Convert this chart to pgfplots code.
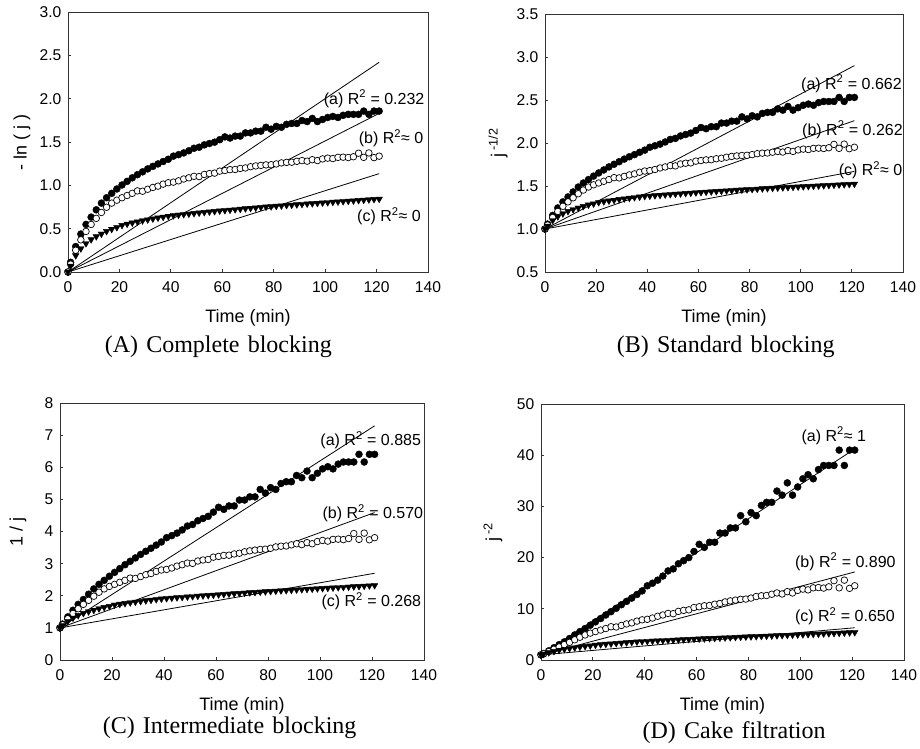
\documentclass[border=0pt]{standalone}
\usepackage{fontspec}
\setmainfont{Liberation Sans}
\newfontfamily\capfont{Liberation Serif}
\usepackage{pgfplots}
\pgfplotsset{compat=1.18}
\usepackage{pgfplotstable}

\pgfplotstableread{
t a b c
0 0 0 0
1 0.112 0.091 0.070
3 0.294 0.251 0.190
5 0.438 0.371 0.270
7 0.549 0.468 0.330
9 0.633 0.549 0.375
11 0.718 0.619 0.410
13 0.795 0.687 0.440
15 0.857 0.747 0.470
17 0.908 0.795 0.495
19 0.958 0.829 0.515
21 1.004 0.857 0.540
23 1.046 0.883 0.555
25 1.087 0.908 0.568
27 1.123 0.936 0.580
29 1.156 0.932 0.593
31 1.190 0.955 0.604
33 1.219 0.976 0.615
35 1.247 0.991 0.625
37 1.275 1.014 0.635
39 1.301 1.030 0.645
41 1.337 1.037 0.652
43 1.354 1.052 0.659
45 1.374 1.073 0.665
47 1.399 1.087 0.671
49 1.428 1.104 0.677
51 1.440 1.101 0.683
53 1.467 1.126 0.689
55 1.483 1.136 0.695
57 1.498 1.141 0.700
59 1.527 1.164 0.706
61 1.559 1.171 0.711
63 1.546 1.181 0.716
65 1.568 1.183 0.722
67 1.568 1.195 0.727
69 1.605 1.201 0.732
71 1.605 1.215 0.737
73 1.625 1.224 0.742
75 1.625 1.230 0.747
77 1.670 1.236 0.752
79 1.648 1.238 0.756
81 1.680 1.247 0.761
83 1.670 1.259 0.765
85 1.704 1.265 0.770
87 1.714 1.267 0.774
89 1.714 1.277 0.778
91 1.748 1.286 0.783
93 1.736 1.279 0.787
95 1.772 1.296 0.791
97 1.736 1.286 0.795
99 1.760 1.305 0.799
101 1.783 1.314 0.803
103 1.795 1.309 0.807
105 1.783 1.323 0.811
107 1.808 1.325 0.815
109 1.819 1.321 0.819
111 1.819 1.330 0.823
113 1.819 1.371 0.827
115 1.857 1.323 0.831
117 1.819 1.374 0.835
119 1.857 1.320 0.839
121 1.857 1.337 0.843
}\tabA

\pgfplotstableread{
t a b c
0 1.000 1.000 1.000
1 1.057 1.046 1.036
3 1.158 1.134 1.100
5 1.245 1.204 1.145
7 1.316 1.264 1.179
9 1.373 1.316 1.206
11 1.431 1.363 1.228
13 1.488 1.410 1.246
15 1.535 1.453 1.265
17 1.575 1.488 1.281
19 1.615 1.514 1.294
21 1.652 1.535 1.310
23 1.687 1.555 1.320
25 1.722 1.575 1.328
27 1.753 1.597 1.336
29 1.783 1.594 1.345
31 1.813 1.612 1.353
33 1.840 1.629 1.360
35 1.865 1.641 1.367
37 1.892 1.660 1.374
39 1.917 1.674 1.381
41 1.951 1.679 1.385
43 1.968 1.692 1.390
45 1.987 1.710 1.394
47 2.012 1.722 1.399
49 2.042 1.737 1.403
51 2.054 1.734 1.407
53 2.082 1.756 1.411
55 2.099 1.765 1.416
57 2.115 1.769 1.419
59 2.146 1.789 1.423
61 2.180 1.796 1.427
63 2.166 1.804 1.431
65 2.190 1.806 1.435
67 2.190 1.817 1.438
69 2.232 1.823 1.442
71 2.232 1.835 1.446
73 2.254 1.844 1.449
75 2.254 1.850 1.453
77 2.304 1.855 1.456
79 2.280 1.857 1.459
81 2.317 1.865 1.463
83 2.304 1.876 1.466
85 2.344 1.882 1.470
87 2.356 1.884 1.473
89 2.356 1.893 1.476
91 2.397 1.902 1.479
93 2.382 1.895 1.482
95 2.425 1.912 1.485
97 2.382 1.902 1.488
99 2.411 1.920 1.491
101 2.439 1.929 1.494
103 2.453 1.924 1.497
105 2.439 1.938 1.500
107 2.470 1.940 1.503
109 2.483 1.936 1.506
111 2.483 1.945 1.509
113 2.483 1.984 1.512
115 2.530 1.938 1.515
117 2.483 1.987 1.518
119 2.530 1.934 1.521
121 2.530 1.951 1.524
}\tabB

\pgfplotstableread{
t a b c
0 1.000 1.000 1.000
1 1.118 1.095 1.073
3 1.342 1.285 1.209
5 1.549 1.449 1.310
7 1.732 1.597 1.391
9 1.884 1.732 1.455
11 2.049 1.857 1.507
13 2.214 1.987 1.553
15 2.356 2.110 1.600
17 2.480 2.214 1.641
19 2.608 2.291 1.674
21 2.729 2.356 1.716
23 2.846 2.419 1.742
25 2.966 2.480 1.765
27 3.074 2.550 1.786
29 3.178 2.540 1.809
31 3.286 2.598 1.829
33 3.384 2.655 1.850
35 3.479 2.693 1.868
37 3.578 2.757 1.887
39 3.674 2.802 1.906
41 3.808 2.820 1.919
43 3.873 2.864 1.933
45 3.950 2.924 1.945
47 4.050 2.966 1.956
49 4.171 3.017 1.968
51 4.219 3.008 1.980
53 4.336 3.082 1.992
55 4.405 3.114 2.004
57 4.472 3.130 2.014
59 4.604 3.202 2.026
61 4.754 3.225 2.036
63 4.690 3.256 2.046
65 4.796 3.263 2.059
67 4.796 3.302 2.069
69 4.980 3.324 2.079
71 4.980 3.369 2.090
73 5.079 3.399 2.100
75 5.079 3.421 2.111
77 5.310 3.442 2.121
79 5.196 3.450 2.130
81 5.367 3.479 2.140
83 5.310 3.521 2.149
85 5.495 3.543 2.160
87 5.550 3.550 2.168
89 5.550 3.585 2.177
91 5.745 3.619 2.188
93 5.675 3.592 2.197
95 5.882 3.654 2.206
97 5.675 3.619 2.214
99 5.814 3.688 2.223
101 5.950 3.722 2.232
103 6.017 3.701 2.241
105 5.950 3.755 2.250
107 6.099 3.762 2.259
109 6.164 3.748 2.268
111 6.164 3.782 2.277
113 6.164 3.937 2.286
115 6.403 3.755 2.296
117 6.164 3.950 2.305
119 6.403 3.742 2.314
121 6.403 3.808 2.323
}\tabC

\pgfplotstableread{
t a b c
0 1.00 1.00 1.000
1 1.25 1.20 1.150
3 1.80 1.65 1.462
5 2.40 2.10 1.716
7 3.00 2.55 1.935
9 3.55 3.00 2.117
11 4.20 3.45 2.270
13 4.90 3.95 2.411
15 5.55 4.45 2.560
17 6.15 4.90 2.691
19 6.80 5.25 2.801
21 7.45 5.55 2.945
23 8.10 5.85 3.034
25 8.80 6.15 3.114
27 9.45 6.50 3.190
29 10.10 6.45 3.274
31 10.80 6.75 3.347
33 11.45 7.05 3.421
35 12.10 7.25 3.490
37 12.80 7.60 3.561
39 13.50 7.85 3.633
41 14.50 7.95 3.684
43 15.00 8.20 3.736
45 15.60 8.55 3.781
47 16.40 8.80 3.827
49 17.40 9.10 3.873
51 17.80 9.05 3.920
53 18.80 9.50 3.967
55 19.40 9.70 4.015
57 20.00 9.80 4.055
59 21.20 10.25 4.104
61 22.60 10.40 4.145
63 22.00 10.60 4.187
65 23.00 10.65 4.237
67 23.00 10.90 4.280
69 24.80 11.05 4.323
71 24.80 11.35 4.366
73 25.80 11.55 4.410
75 25.80 11.70 4.455
77 28.20 11.85 4.500
79 27.00 11.90 4.536
81 28.80 12.10 4.581
83 28.20 12.40 4.618
85 30.20 12.55 4.665
87 30.80 12.60 4.702
89 30.80 12.85 4.740
91 33.00 13.10 4.787
93 32.20 12.90 4.826
95 34.60 13.35 4.865
97 32.20 13.10 4.904
99 33.80 13.60 4.943
101 35.40 13.85 4.983
103 36.20 13.70 5.023
105 35.40 14.10 5.063
107 37.20 14.15 5.104
109 38.00 14.05 5.145
111 38.00 14.30 5.186
113 38.00 15.50 5.228
115 41.00 14.10 5.270
117 38.00 15.60 5.312
119 41.00 14.00 5.355
121 41.00 14.50 5.398
}\tabD

\tikzset{
  anntxt/.style={anchor=west, inner sep=0pt, font=\fontsize{16}{19}\selectfont},
  captxt/.style={inner sep=0pt, font=\capfont\fontsize{24}{28}\selectfont},
}

\pgfplotsset{
  myaxis/.style={
    scale only axis, clip=false,
    xmin=0, xmax=140, xtick={0,20,...,140},
    tick align=inside, xtick pos=left, ytick pos=left,
    major tick length=3pt,
    axis line style={draw=black!80, line width=0.9pt},
    every tick/.style={black!80, line width=0.8pt},
    tick label style={font=\fontsize{15.6}{18}\selectfont},
    label style={font=\fontsize{18}{21}\selectfont},
    /pgf/number format/assume math mode=true,
    xticklabel style={yshift=-5.8pt},
    yticklabel style={xshift=-3.2pt},
    xlabel={Time (min)},
    xlabel style={at={(axis description cs:0.5,0)}, anchor=center, yshift=-46pt},
  },
  onedec/.style={yticklabel style={/pgf/number format/.cd, fixed, fixed zerofill, precision=1}},
  sa/.style={only marks, mark=*, mark size=3.5pt, mark options={fill=black, draw=black}},
  sb/.style={only marks, mark=*, mark size=3.3pt, mark options={fill=white, draw=black, line width=0.7pt}},
  sc/.style={only marks, mark=triangle*, mark size=3.8pt, mark options={rotate=180, fill=black, draw=black}},
  fit/.style={black, line width=0.8pt, no marks},
}

\begin{document}
\begin{tikzpicture}[x=1pt,y=1pt]
\path[use as bounding box] (0,0) rectangle (920,-748);

% (A)
\begin{axis}[myaxis, onedec, at={(68pt,-272pt)}, anchor=south west,
  width=360pt, height=260pt, ymin=0, ymax=3, ytick={0,0.5,...,3},
  ylabel={- ln ( j )},
  ylabel style={at={(axis description cs:-0.1278,0.5)}, anchor=center}]
\addplot[sa] table[x=t,y=a]{\tabA};
\addplot[sb] table[x=t,y=b]{\tabA};
\addplot[sc] table[x=t,y=c]{\tabA};
\addplot[fit] coordinates {(0,0) (121,2.42)};
\addplot[fit] coordinates {(0,0) (121,1.83)};
\addplot[fit] coordinates {(0,0) (121,1.135)};
\node[anntxt] at (axis cs:99.4,2.0) {(a) R\textsuperscript{2} = 0.232};
\node[anntxt] at (axis cs:113,1.54) {(b) R\textsuperscript{2}≈ 0};
\node[anntxt] at (axis cs:112.4,0.64) {(c) R\textsuperscript{2}≈ 0};
\node[captxt] at (axis description cs:0.4175,-0.287) {(A)\hspace{0.34em}Complete\hspace{0.34em}blocking};
\end{axis}

% (B)
\begin{axis}[myaxis, onedec, at={(545pt,-272pt)}, anchor=south west,
  width=358pt, height=258pt, ymin=0.5, ymax=3.5, ytick={0.5,1,...,3.5},
  ylabel={j\,\textsuperscript{-1/2}},
  ylabel style={at={(axis description cs:-0.1313,0.5)}, anchor=center}]
\addplot[sa] table[x=t,y=a]{\tabB};
\addplot[sb] table[x=t,y=b]{\tabB};
\addplot[sc] table[x=t,y=c]{\tabB};
\addplot[fit] coordinates {(0,1) (121,2.90)};
\addplot[fit] coordinates {(0,1) (121,2.26)};
\addplot[fit] coordinates {(0,1) (121,1.67)};
\node[anntxt] at (axis cs:100.1,2.69) {(a) R\textsuperscript{2} = 0.662};
\node[anntxt] at (axis cs:100.5,2.155) {(b) R\textsuperscript{2} = 0.262};
\node[anntxt] at (axis cs:114.8,1.68) {(c) R\textsuperscript{2}≈ 0};
\node[captxt] at (axis description cs:0.505,-0.2895) {(B)\hspace{0.34em}Standard\hspace{0.34em}blocking};
\end{axis}

% (C)
\begin{axis}[myaxis, at={(60pt,-660pt)}, anchor=south west,
  width=364pt, height=257pt, ymin=0, ymax=8, ytick={0,1,...,8},
  ylabel={1 / j},
  ylabel style={at={(axis description cs:-0.1154,0.5)}, anchor=center}]
\addplot[sa] table[x=t,y=a]{\tabC};
\addplot[sb] table[x=t,y=b]{\tabC};
\addplot[sc] table[x=t,y=c]{\tabC};
\addplot[fit] coordinates {(0,1) (121,7.29)};
\addplot[fit] coordinates {(0,1) (121,4.59)};
\addplot[fit] coordinates {(0,1) (121,2.70)};
\node[anntxt] at (axis cs:100.1,6.83) {(a) R\textsuperscript{2} = 0.885};
\node[anntxt] at (axis cs:100.9,4.56) {(b) R\textsuperscript{2} = 0.570};
\node[anntxt] at (axis cs:100.5,1.84) {(c) R\textsuperscript{2} = 0.268};
\node[captxt] at (axis description cs:0.466,-0.262) {(C)\hspace{0.34em}Intermediate\hspace{0.34em}blocking};
\end{axis}

% (D)
\begin{axis}[myaxis, at={(541pt,-660pt)}, anchor=south west,
  width=363pt, height=256pt, ymin=0, ymax=50, ytick={0,10,...,50},
  ylabel={j\,\textsuperscript{-2}},
  ylabel style={at={(axis description cs:-0.1322,0.5)}, anchor=center}]
\addplot[sa] table[x=t,y=a]{\tabD};
\addplot[sb] table[x=t,y=b]{\tabD};
\addplot[sc] table[x=t,y=c]{\tabD};
\addplot[fit] coordinates {(0,1) (121.5,41.4)};
\addplot[fit] coordinates {(0,1) (121,17.2)};
\addplot[fit] coordinates {(0,1) (121,6.3)};
\node[anntxt] at (axis cs:100.4,43.8) {(a) R\textsuperscript{2}≈ 1};
\node[anntxt] at (axis cs:97.9,19.2) {(b) R\textsuperscript{2} = 0.890};
\node[anntxt] at (axis cs:97.9,8.5) {(c) R\textsuperscript{2} = 0.650};
\node[captxt] at (axis description cs:0.532,-0.282) {(D)\hspace{0.34em}Cake\hspace{0.34em}filtration};
\end{axis}
\end{tikzpicture}
\end{document}
